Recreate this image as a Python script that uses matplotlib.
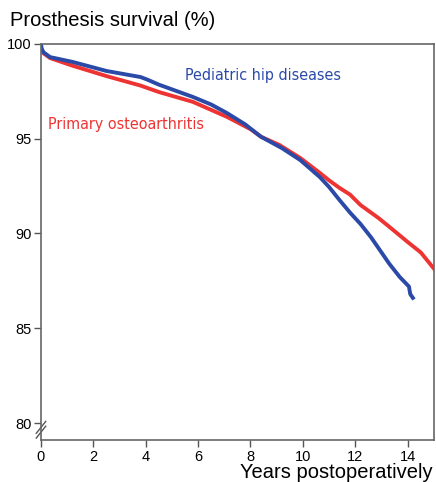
import numpy as np
import matplotlib.pyplot as plt

# Kaplan-Meier curves
years_ped = [0, 0.02, 0.1, 0.35, 1.2, 2.5, 3.8, 4.05, 4.5, 5.0, 5.8, 6.5, 7.1,
             7.8, 8.4, 9.2, 9.9, 10.65, 11.0, 11.4, 11.8, 12.2, 12.6, 13.0,
             13.3, 13.7, 14.05, 14.1, 14.2]
surv_ped = [100, 99.75, 99.55, 99.3, 99.05, 98.57, 98.25, 98.12, 97.85, 97.6,
            97.2, 96.8, 96.35, 95.75, 95.1, 94.5, 93.87, 92.97, 92.45, 91.76,
            91.1, 90.5, 89.8, 89.0, 88.4, 87.7, 87.2, 86.8, 86.6]

years_oa = [0, 0.02, 0.1, 0.35, 1.2, 2.5, 3.8, 4.5, 5.8, 7.1, 8.0, 8.4, 9.1,
            9.9, 10.65, 11.0, 11.4, 11.8, 12.2, 12.9, 13.3, 14.0, 14.5, 15]
surv_oa = [100, 99.7, 99.5, 99.25, 98.85, 98.3, 97.8, 97.46, 96.94, 96.15, 95.5,
           95.1, 94.67, 93.98, 93.19, 92.8, 92.4, 92.05, 91.5, 90.8, 90.35,
           89.55, 89.0, 88.15]

xticks = [0, 2, 4, 6, 8, 10, 12, 14]
yticks = [80, 85, 90, 95, 100]

BLUE = "#2b4aa8"
RED = "#ee3333"

plt.rcParams['font.family'] = ['Liberation Sans', 'DejaVu Sans']

fig = plt.figure(figsize=(4.36, 4.82), dpi=100)
ax = fig.add_axes([0.094, 0.087, 0.901, 0.822])

ax.plot(years_oa, surv_oa, color=RED, lw=2.8, solid_joinstyle='round')
ax.plot(years_ped, surv_ped, color=BLUE, lw=2.8, solid_joinstyle='round')

ax.set_xlim(0, 15)
ax.set_ylim(79.1, 100)
ax.set_xticks(xticks)
ax.set_yticks(yticks)
ax.tick_params(direction='out', length=5, width=1, color='#555555',
               labelsize=10.5, pad=2)
for s in ax.spines.values():
    s.set_color('#666666')
    s.set_linewidth(1.2)

ax.text(0.27, 95.75, "Primary osteoarthritis", color=RED, fontsize=11.5,
        family='DejaVu Sans', fontstretch='condensed', va='center', ha='left')
ax.text(5.5, 98.35, "Pediatric hip diseases", color=BLUE, fontsize=11.5,
        family='DejaVu Sans', fontstretch='condensed', va='center', ha='left')

fig.text(0.022, 0.958, "Prosthesis survival (%)", fontsize=14.5, va='center', ha='left')
fig.text(0.993, 0.009, "Years postoperatively", fontsize=14.5, va='baseline', ha='right')

# axis break marks
for dy in (0, 0.012):
    ax.plot([-0.012, 0.012], [0.005 + dy, 0.035 + dy], transform=ax.transAxes,
            color='#555555', lw=1, clip_on=False)

fig.savefig("out.png", dpi=100)
